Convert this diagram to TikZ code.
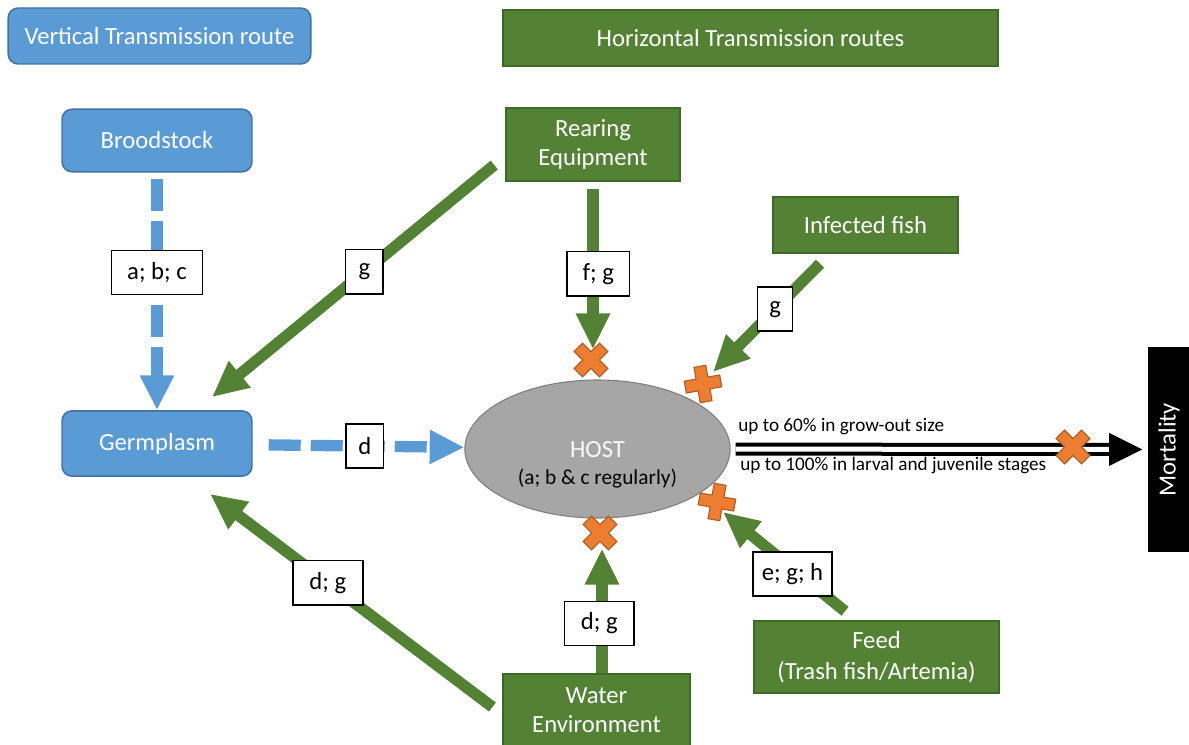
\documentclass[tikz,border=0pt]{standalone}
\usepackage{fontspec}
\setmainfont{Carlito}
\usetikzlibrary{arrows.meta,calc,shapes.geometric}

\definecolor{vblue}{HTML}{5B9BD5}
\definecolor{vblueline}{HTML}{41719C}
\definecolor{hgreen}{HTML}{548235}
\definecolor{hgreenline}{HTML}{3D6B27}
\definecolor{xorange}{HTML}{ED7D31}
\definecolor{xorangeline}{HTML}{AE5A21}
\definecolor{hostgray}{HTML}{A6A6A6}
\definecolor{hostline}{HTML}{7F7F7F}

\begin{document}
\begin{tikzpicture}[x=0.75pt, y=-0.75pt,
    every node/.style = {font=\fontsize{18.5}{22}\selectfont, align=center, inner sep=0pt},
    vbox/.style = {draw=vblueline, fill=vblue, text=white, rounded corners=7.5pt, line width=1.1pt},
    hbox/.style = {draw=hgreenline, fill=hgreen, text=white, line width=1.1pt},
    lbl/.style = {draw=black, fill=white, text=black, solid, line width=1.1pt, minimum height=33pt},
    varrow/.style = {vblue, line width=8.5pt, dash pattern=on 24pt off 7.5pt, -{Triangle[length=26pt,width=24pt]}},
    harrow/.style = {hgreen, line width=8.5pt, -{Triangle[length=27pt,width=24pt]}},
    xcross/.pic = {\draw[xorangeline, fill=xorange, line width=0.8pt] (6,18) -- (6,6) -- (18,6) -- (18,-6) -- (6,-6) -- (6,-18) -- (-6,-18) -- (-6,-6) -- (-18,-6) -- (-18,6) -- (-6,6) -- (-6,18) -- cycle;}]
    \useasboundingbox (0,0) rectangle (1189,745);

    % route headings
    \node[vbox, minimum width=227pt, minimum height=42pt] (vert) at (159.5,36) {Vertical Transmission route};
    \node[hbox, minimum width=371pt, minimum height=42pt] (horiz) at (750.5,38) {Horizontal Transmission routes};

    % sources
    \node[vbox, minimum width=142.5pt, minimum height=47pt] (brood) at (157,140.5) {Broodstock};
    \node[vbox, minimum width=142.5pt, minimum height=49pt] (germ) at (157,443.5) {Germplasm};
    \node[hbox, minimum width=130.5pt, minimum height=55pt] (rear) at (593,144.5) {Rearing\\Equipment};
    \node[hbox, minimum width=139pt, minimum height=42pt] (fish) at (865.5,225) {Infected fish};
    \node[hbox, minimum width=184pt, minimum height=54pt, font=\fontsize{18.5}{23}\selectfont] (feed) at (876.5,657) {Feed\\(Trash fish/Artemia)};
    \node[hbox, minimum width=140pt, minimum height=55pt] (water) at (596.5,710.5) {Water\\Environment};

    % host
    \node[ellipse, draw=hostline, fill=hostgray, line width=0.8pt, minimum width=199pt, minimum height=103.5pt] (host) at (597.5,449) {};
    \node[text=white!95!gray] (hostname) at (597.5,450) {HOST};
    \node[font=\fontsize{16}{19}\selectfont] (hostnote) at (597.5,479) {(a; b \& c regularly)};

    % mortality
    \node[fill=black, text=white, rotate=90, minimum width=154pt, minimum height=32pt] (mort) at (1169,449.5) {Mortality};

    % vertical routes
    \draw[varrow, shorten <=4.5pt] (brood) -- node[lbl, minimum width=68pt, pos=0.42] (labc) {a; b; c} (germ);
    \draw[varrow, shorten <=12pt] (germ) -- node[lbl, minimum width=28pt, pos=0.53] (ld) {d} (host);

    % horizontal routes
    \draw[harrow] ($(rear.west)+(-11,20.5)$) -- node[lbl, minimum width=28pt, pos=0.46] (lg1) {g} ($(germ.north)+(55,-13)$);
    \draw[harrow, shorten <=5pt, shorten >=22.5pt] (rear.south) -- node[lbl, minimum width=47pt, pos=0.465, xshift=4pt] (lfg) {f; g} (rear.south |- host.north);
    \draw[harrow] ($(fish.south)+(-45.5,10)$) -- node[lbl, minimum width=26pt, pos=0.42] (lg2) {g} ($(host)+(115.5,-77)$);
    \draw[harrow] ($(feed.north)+(-31.5,-9)$) -- node[lbl, minimum width=59pt, pos=0.43, yshift=-4pt] (legh) {e; g; h} ($(host)+(125.5,63)$);
    \draw[harrow] ($(water.north)+(5.5,0)$) -- node[lbl, minimum width=52pt, pos=0.40, xshift=-2pt] (ldg2) {d; g} ($(host.south)+(4.5,30)$);
    \draw[harrow] ($(water.west)+(-10,-3.5)$) -- node[lbl, minimum width=52.5pt, pos=0.583] (ldg1) {d; g} ($(germ.south)+(53,17)$);

    % host to mortality
    \draw[double=white, double distance=3.75pt, line width=3pt, -{Triangle[length=25pt,width=24pt]}, shorten <=3.75pt, shorten >=3.75pt] (host) -- (mort);
    \node[font=\fontsize{14.4}{17}\selectfont, anchor=west] (rate1) at (738,427) {up to 60\% in grow-out size};
    \node[font=\fontsize{14.4}{17}\selectfont, anchor=west] (rate2) at (740,465) {up to 100\% in larval and juvenile stages};

    % blocking crosses
    \pic[rotate=45] at (591,360) {xcross};
    \pic[rotate=10] at (703,384) {xcross};
    \pic[rotate=-10] at (717,502) {xcross};
    \pic[rotate=45] at (600,533) {xcross};
    \pic[rotate=45] at (1073,447) {xcross};
\end{tikzpicture}
\end{document}
